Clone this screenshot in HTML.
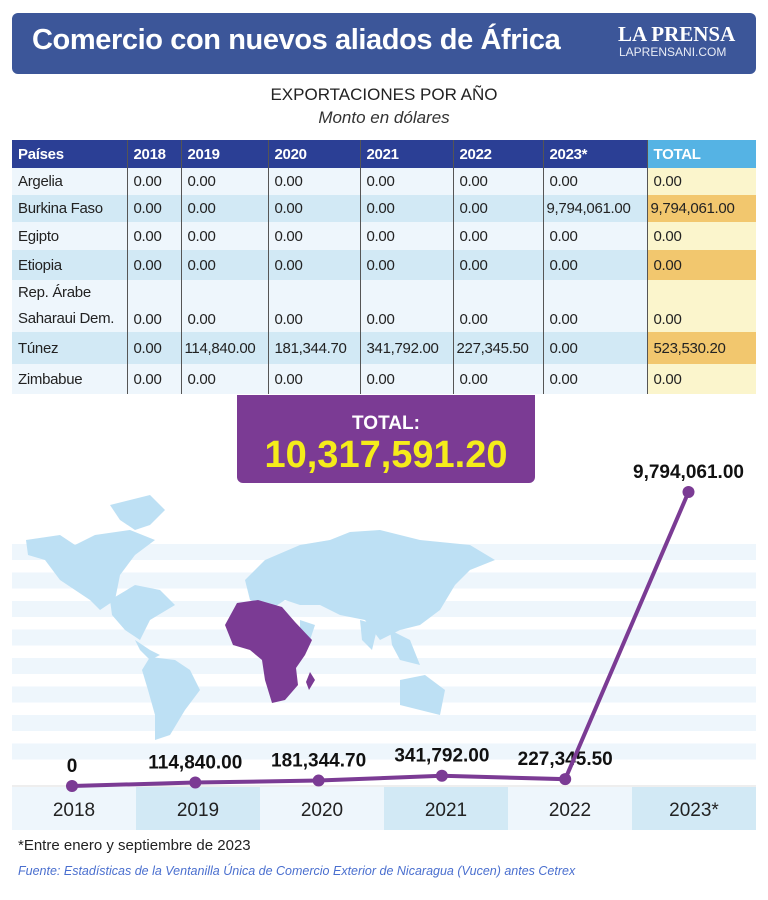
<!DOCTYPE html>
<html><head><meta charset="utf-8"><style>
body{margin:0;width:768px;height:900px;background:#fff;font-family:"Liberation Sans",sans-serif;position:relative;overflow:hidden}
.abs{position:absolute}
table{border-collapse:collapse;position:absolute;left:12px;top:140px;width:744px;font-size:15px;font-family:"Liberation Sans",sans-serif}
td,th{padding:0 0 0 6px;text-align:left;border-left:1px solid #555;color:#222;letter-spacing:-0.3px}
th{background:#2b3f95;color:#fff;height:28px;font-size:15px}
th.tot{background:#55b3e4}
tr.a td{background:#eef6fc}tr.b td{background:#d2e9f5}
td.t{background:#fbf5cc!important}td.o{background:#f2c76e!important}
td:first-child,th:first-child{border-left:none}
</style></head><body>
<div class="abs" style="left:12px;top:13px;width:744px;height:61px;background:#3c5699;border-radius:6px"></div>
<div class="abs" style="left:32px;top:24px;color:#fff;font-size:29px;font-weight:bold;letter-spacing:-0.4px">Comercio con nuevos aliados de África</div>
<div class="abs" style="left:618px;top:22px;color:#fff;font-family:'Liberation Serif',serif;font-size:21px;font-weight:bold">LA PRENSA</div>
<div class="abs" style="left:619px;top:45px;color:#e8ecf6;font-size:12px">LAPRENSANI.COM</div>
<div class="abs" style="left:0;width:768px;text-align:center;top:85px;font-size:17px;color:#222">EXPORTACIONES POR AÑO</div>
<div class="abs" style="left:0;width:768px;text-align:center;top:108px;font-size:17px;font-style:italic;color:#333">Monto en dólares</div>
<table>
<colgroup><col style="width:115px"><col style="width:54px"><col style="width:87px"><col style="width:92px"><col style="width:93px"><col style="width:90px"><col style="width:104px"><col style="width:109px"></colgroup>
<tr><th>Países</th><th>2018</th><th>2019</th><th>2020</th><th>2021</th><th>2022</th><th>2023*</th><th class="tot">TOTAL</th></tr>
<tr class="a" style="height:27px"><td>Argelia</td><td>0.00</td><td>0.00</td><td>0.00</td><td>0.00</td><td>0.00</td><td>0.00</td><td class="t">0.00</td></tr>
<tr class="b" style="height:27px"><td>Burkina Faso</td><td>0.00</td><td>0.00</td><td>0.00</td><td>0.00</td><td>0.00</td><td style="padding-left:3px">9,794,061.00</td><td class="o" style="padding-left:3px">9,794,061.00</td></tr>
<tr class="a" style="height:28px"><td>Egipto</td><td>0.00</td><td>0.00</td><td>0.00</td><td>0.00</td><td>0.00</td><td>0.00</td><td class="t">0.00</td></tr>
<tr class="b" style="height:30px"><td>Etiopia</td><td>0.00</td><td>0.00</td><td>0.00</td><td>0.00</td><td>0.00</td><td>0.00</td><td class="o">0.00</td></tr>
<tr class="a" style="height:50px"><td style="line-height:26px">Rep. Árabe<br>Saharaui Dem.</td><td style="vertical-align:bottom;padding-bottom:4px">0.00</td><td style="vertical-align:bottom;padding-bottom:4px">0.00</td><td style="vertical-align:bottom;padding-bottom:4px">0.00</td><td style="vertical-align:bottom;padding-bottom:4px">0.00</td><td style="vertical-align:bottom;padding-bottom:4px">0.00</td><td style="vertical-align:bottom;padding-bottom:4px">0.00</td><td class="t" style="vertical-align:bottom;padding-bottom:4px">0.00</td></tr>
<tr class="b" style="height:32px"><td>Túnez</td><td>0.00</td><td style="padding-left:3px">114,840.00</td><td>181,344.70</td><td>341,792.00</td><td style="padding-left:3px">227,345.50</td><td>0.00</td><td class="o">523,530.20</td></tr>
<tr class="a" style="height:30px"><td>Zimbabue</td><td>0.00</td><td>0.00</td><td>0.00</td><td>0.00</td><td>0.00</td><td>0.00</td><td class="t">0.00</td></tr>
</table>
<div class="abs" style="left:237px;top:395px;width:298px;height:88px;background:#7b3b94;border-radius:0 0 6px 6px;text-align:center">
<div style="color:#fff;font-weight:bold;font-size:19px;margin-top:18px">TOTAL:</div>
<div style="color:#f5ec1a;font-weight:bold;font-size:38px;line-height:40px">10,317,591.20</div></div>
<svg class="abs" style="left:0;top:0" width="768" height="900">
<g id="stripes"></g>
<g fill="#bde0f4">
<path d="M26,540 L60,535 L75,545 L95,535 L130,530 L155,540 L135,555 L120,575 L115,600 L100,610 L90,600 L60,580 L45,560 L28,555Z"/>
<path d="M110,600 L135,585 L160,590 L175,605 L150,620 L140,640 L125,630 L112,615Z"/>
<path d="M135,640 L150,650 L160,655 L150,660 L140,650Z"/>
<path d="M150,657 L175,660 L190,670 L200,690 L185,710 L170,735 L155,740 L155,715 L148,690 L142,670Z"/>
<path d="M110,505 L150,495 L165,510 L150,525 L135,530 L120,520Z"/>
<path d="M245,580 L265,560 L300,545 L330,540 L350,532 L380,530 L420,540 L470,545 L495,560 L470,570 L455,585 L440,610 L420,625 L400,630 L380,640 L365,620 L340,615 L320,605 L300,605 L285,600 L270,610 L250,600Z"/>
<path d="M360,620 L378,625 L372,650 L362,640Z"/>
<path d="M390,630 L410,640 L420,665 L400,660 L392,645Z"/>
<path d="M400,680 L425,675 L445,690 L440,715 L420,710 L400,705Z"/>
<path d="M300,620 L315,625 L310,640 L300,630Z"/>
</g>
<path fill="#7b3b94" d="M237,603 L258,600 L282,607 L295,622 L312,640 L305,655 L296,668 L298,685 L285,700 L272,703 L265,680 L262,660 L250,650 L233,645 L225,625Z"/>
<path fill="#7b3b94" d="M310,672 L315,680 L309,690 L306,682Z"/>
<rect x="12" y="787" width="744" height="43" fill="#eef6fc"/>
<g id="bands"></g>
<line x1="12" y1="786" x2="756" y2="786" stroke="#ddd"/>
<g id="labels"></g>
<polyline id="line" fill="none" stroke="#7b3b94" stroke-width="4"/>
<g id="points"></g>
</svg>
<div class="abs" style="left:18px;top:837px;font-size:15px;color:#222">*Entre enero y septiembre de 2023</div>
<div class="abs" style="left:18px;top:864px;font-size:12.5px;font-style:italic;color:#4a6fcf">Fuente: Estadísticas de la Ventanilla Única de Comercio Exterior de Nicaragua (Vucen) antes Cetrex</div>
<script>
const years=["2018","2019","2020","2021","2022","2023*"];
const values=[0,114840,181344.7,341792,227345.5,9794061];
const valueLabels=["0","114,840.00","181,344.70","341,792.00","227,345.50","9,794,061.00"];
const NS="http://www.w3.org/2000/svg";
const x=i=>72+i*123.3;
const y=v=>786-v*294/9794061;
const st=document.getElementById('stripes');
for(let k=0;k<8;k++){const r=document.createElementNS(NS,'rect');


r.setAttribute('x',12);r.setAttribute('y',544+k*28.5);r.setAttribute('width',744);r.setAttribute('height',16);r.setAttribute('fill','#eef6fc');st.appendChild(r);}
const bd=document.getElementById('bands'),lb=document.getElementById('labels'),pt=document.getElementById('points');
years.forEach((yr,i)=>{
 if(i%2==1){const r=document.createElementNS(NS,'rect');
 
 
 r.setAttribute('x',12+i*124);r.setAttribute('y',787);r.setAttribute('width',124);r.setAttribute('height',43);r.setAttribute('fill','#d2e9f5');bd.appendChild(r);}
 const t=document.createElementNS(NS,'text');
 
 
 t.setAttribute('x',74+i*124);t.setAttribute('y',816);t.setAttribute('text-anchor','middle');t.setAttribute('font-size','19');t.setAttribute('fill','#222');t.textContent=yr;lb.appendChild(t);
 const v=document.createElementNS(NS,'text');
 
 
 v.setAttribute('x',x(i));v.setAttribute('y',y(values[i])-14);v.setAttribute('text-anchor','middle');v.setAttribute('font-size','19');v.setAttribute('font-weight','bold');v.setAttribute('fill','#111');v.textContent=valueLabels[i];lb.appendChild(v);
 const c=document.createElementNS(NS,'circle');
 
 
 c.setAttribute('cx',x(i));c.setAttribute('cy',y(values[i]));c.setAttribute('r',6);c.setAttribute('fill','#7b3b94');pt.appendChild(c);
});
document.getElementById('line').setAttribute('points',values.map((v,i)=>x(i)+','+y(v)).join(' '));
</script>
</body></html>
